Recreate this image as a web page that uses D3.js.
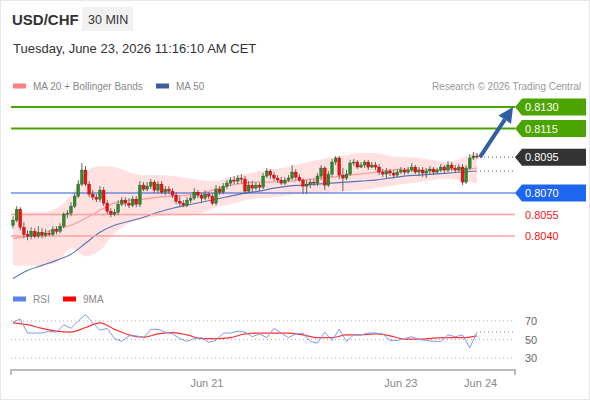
<!DOCTYPE html>
<meta charset="utf-8">
<style>
body { margin: 0; background: #fff; font-family: "Liberation Sans", Arial, sans-serif; }
text { font-family: "Liberation Sans", Arial, sans-serif; }
</style>
<body>
<script src="https://cdn.jsdelivr.net/npm/d3@7"></script>
<script>

// candles, 30 min, oldest first
var opens = [.80475,.80510,.80587,.80461,.80412,.80398,.80433,.80398,.80426,.80405,.80419,.80412,.80447,.80433,.80468,.80552,.80559,.80608,.80678,.80762,
  .80860,.80762,.80692,.80671,.80657,.80720,.80629,.80573,.80552,.80566,.80622,.80650,.80629,.80615,.80657,.80622,.80755,.80727,.80748,.80776,
  .80720,.80762,.80706,.80727,.80713,.80685,.80643,.80629,.80615,.80650,.80664,.80706,.80685,.80664,.80692,.80678,.80629,.80727,.80706,.80748,
  .80769,.80790,.80783,.80804,.80797,.80713,.80755,.80734,.80755,.80741,.80818,.80853,.80825,.80804,.80790,.80769,.80790,.80804,.80846,.80811,
  .80790,.80748,.80762,.80776,.80769,.80818,.80874,.80755,.80832,.80916,.80944,.80825,.80804,.80832,.80909,.80916,.80881,.80895,.80916,.80881,
  .80895,.80881,.80846,.80832,.80853,.80839,.80825,.80846,.80860,.80846,.80860,.80881,.80846,.80860,.80839,.80853,.80867,.80846,.80860,.80881,
  .80860,.80895,.80874,.80860,.80881,.80776,.80874,.80944,.80958];
var highs = [.80538,.80608,.80601,.80496,.80440,.80461,.80454,.80468,.80454,.80447,.80440,.80468,.80468,.80489,.80566,.80580,.80636,.80699,.80790,.80909,
  .80888,.80783,.80720,.80692,.80748,.80741,.80650,.80594,.80587,.80650,.80671,.80671,.80664,.80678,.80678,.80783,.80776,.80776,.80797,.80790,
  .80783,.80783,.80748,.80748,.80734,.80706,.80678,.80650,.80671,.80685,.80734,.80720,.80699,.80720,.80706,.80699,.80755,.80748,.80769,.80790,
  .80811,.80818,.80825,.80832,.80818,.80783,.80783,.80776,.80769,.80839,.80874,.80867,.80846,.80825,.80811,.80811,.80825,.80895,.80867,.80832,
  .80804,.80790,.80797,.80797,.80839,.80895,.80888,.80853,.80937,.80958,.80958,.80874,.80860,.80930,.80937,.80930,.80916,.80930,.80930,.80916,
  .80916,.80902,.80867,.80874,.80867,.80860,.80867,.80881,.80874,.80881,.80909,.80895,.80881,.80881,.80874,.80888,.80881,.80874,.80902,.80895,
  .80923,.80916,.80895,.80902,.80902,.80895,.80972,.80986,.80979];
var lows = [.80454,.80496,.80440,.80384,.80370,.80377,.80384,.80384,.80384,.80391,.80398,.80398,.80412,.80419,.80454,.80524,.80538,.80594,.80664,.80748,
  .80748,.80671,.80650,.80636,.80636,.80608,.80552,.80531,.80538,.80545,.80608,.80608,.80594,.80601,.80601,.80601,.80713,.80713,.80727,.80699,
  .80699,.80692,.80685,.80692,.80664,.80622,.80608,.80601,.80601,.80629,.80650,.80664,.80629,.80650,.80657,.80615,.80615,.80685,.80692,.80727,
  .80748,.80762,.80762,.80769,.80692,.80699,.80706,.80720,.80713,.80727,.80804,.80797,.80783,.80769,.80755,.80755,.80776,.80790,.80790,.80776,
  .80692,.80692,.80734,.80748,.80748,.80790,.80720,.80741,.80811,.80895,.80797,.80713,.80790,.80818,.80888,.80867,.80874,.80874,.80860,.80874,
  .80860,.80825,.80811,.80804,.80818,.80804,.80811,.80832,.80825,.80832,.80846,.80832,.80818,.80811,.80804,.80832,.80825,.80832,.80846,.80839,
  .80846,.80853,.80839,.80846,.80755,.80762,.80860,.80930,.80937];
var closes = [.80510,.80587,.80461,.80412,.80398,.80433,.80398,.80426,.80405,.80419,.80412,.80447,.80433,.80468,.80552,.80559,.80608,.80678,.80762,.80860,
  .80762,.80692,.80671,.80657,.80720,.80629,.80573,.80552,.80566,.80622,.80650,.80629,.80615,.80657,.80622,.80755,.80727,.80748,.80776,.80720,
  .80762,.80706,.80727,.80713,.80685,.80643,.80629,.80615,.80650,.80664,.80706,.80685,.80664,.80692,.80678,.80629,.80727,.80706,.80748,.80769,
  .80790,.80783,.80804,.80797,.80713,.80755,.80734,.80755,.80741,.80818,.80853,.80825,.80804,.80790,.80769,.80790,.80804,.80846,.80811,.80790,
  .80748,.80762,.80776,.80769,.80818,.80874,.80755,.80832,.80916,.80944,.80825,.80804,.80832,.80909,.80916,.80881,.80895,.80916,.80881,.80895,
  .80881,.80846,.80832,.80853,.80839,.80825,.80846,.80860,.80846,.80860,.80881,.80846,.80860,.80839,.80853,.80867,.80846,.80860,.80881,.80860,
  .80895,.80874,.80860,.80881,.80776,.80874,.80944,.80958,.80951];

// indicator readings, one every 4 candles (index 0, 4, 8 ... 128)
var ma20  = [.80384,.80398,.80419,.80447,.80475,.80524,.80580,.80629,.80650,.80657,.80671,.80678,.80685,.80699,.80727,.80755,.80769,
  .80776,.80776,.80783,.80790,.80804,.80811,.80825,.80832,.80846,.80860,.80867,.80860,.80860,.80867,.80867,.80874];
var bbUp  = [.80566,.80566,.80566,.80594,.80685,.80846,.80888,.80881,.80846,.80825,.80825,.80818,.80804,.80790,.80783,.80811,.80832,
  .80853,.80867,.80881,.80909,.80930,.80951,.80965,.80979,.80979,.80958,.80951,.80944,.80930,.80916,.80944,.80986];
var bbLow = [.80195,.80195,.80195,.80216,.80314,.80258,.80300,.80419,.80489,.80517,.80538,.80545,.80545,.80559,.80601,.80622,.80650,
  .80664,.80671,.80685,.80699,.80699,.80706,.80713,.80720,.80734,.80748,.80762,.80776,.80790,.80797,.80783,.80769];
var ma50  = [.80104,.80160,.80195,.80230,.80272,.80349,.80426,.80475,.80503,.80531,.80566,.80594,.80615,.80636,.80657,.80678,.80699,
  .80713,.80734,.80748,.80755,.80762,.80769,.80776,.80783,.80790,.80804,.80818,.80825,.80832,.80839,.80846,.80853];
var rsiMa = [68,66,62,59,58,63,68,61,55,52.5,56,57.5,55,51,51,52,56,57,57,57,55,52,52,55,55,56,54,50.5,50.5,51.5,52,52,54];

// RSI, one every 2 candles
var rsi = [69,72,57,57,57,59,58,66,62,70,77,68,60,62,51,48,54,54,52,61,61,58,56,51,48,51,52,47,49,57,57,59,58,
  53,56,52,62,57,52,56,57,48,46,58,49,61,48,55,55,57,57,56,49,49,51,53,50,49,48,48,55,53,55,41,58];

// key levels
var resistLevels = [0.8130, 0.8115];
var pivotLevel = 0.8070;
var supportLevels = [0.8055, 0.8040];
var lastPrice = 0.8095;
var rsiTicks = [70, 50, 30];
var dayTickIdx = [53.5, 107, 129];
var dayTickLabels = ["Jun 21", "Jun 23", "Jun 24"];

var W = 590, H = 400;
var svg = d3.select("body").append("svg").attr("width", W).attr("height", H);

svg.append("rect").attr("x", 0.5).attr("y", 0.5).attr("width", W - 1).attr("height", H - 1)
  .attr("fill", "#fff").attr("stroke", "#e4e7eb");

var x = d3.scaleLinear().domain([0, 128]).range([13, 477]);
var y = d3.scaleLinear().domain([0.8040, 0.8130]).range([236, 107]);
var yr = d3.scaleLinear().domain([30, 70]).range([358, 321]);
var xL = 11, xR = 515;

// header
svg.append("text").attr("x", 12).attr("y", 25).attr("font-size", 15).attr("font-weight", "bold")
  .attr("fill", "#333").text("USD/CHF");
svg.append("rect").attr("x", 82).attr("y", 7).attr("width", 51).attr("height", 24).attr("fill", "#f1f1f1");
svg.append("text").attr("x", 88).attr("y", 24).attr("font-size", 12.5).attr("fill", "#333").text("30 MIN");
svg.append("text").attr("x", 13).attr("y", 53).attr("font-size", 13).attr("fill", "#333")
  .text("Tuesday, June 23, 2026 11:16:10 AM CET");

// legends
function legend(g, lx, ly, color, label) {
  g.append("rect").attr("x", lx).attr("y", ly - 2.5).attr("width", 13).attr("height", 5).attr("fill", color);
  g.append("text").attr("x", lx + 20).attr("y", ly + 4).attr("font-size", 10).attr("fill", "#888").text(label);
}
legend(svg, 13, 86, "#ff8080", "MA 20 + Bollinger Bands");
legend(svg, 156, 86, "#3a5fa0", "MA 50");
svg.append("text").attr("x", 581).attr("y", 90).attr("font-size", 10).attr("fill", "#999")
  .attr("text-anchor", "end").text("Research \u00a9 2026 Trading Central");
legend(svg, 13, 299, "#5b82e8", "RSI");
legend(svg, 63, 299, "#f00", "9MA");

// bollinger band + moving averages
var idx4 = function(d, i) { return x(i * 4); };
svg.append("path").datum(bbUp.map(function(v, i) { return [v, bbLow[i]]; }))
  .attr("fill", "#ffdcdc").attr("opacity", 0.85)
  .attr("d", d3.area().x(idx4).y0(function(d) { return y(d[0]); }).y1(function(d) { return y(d[1]); })
    .curve(d3.curveMonotoneX));

var line4 = d3.line().x(idx4).y(function(d) { return y(d); }).curve(d3.curveMonotoneX);
svg.append("path").datum(ma20).attr("fill", "none").attr("stroke", "#ff9a9a").attr("stroke-width", 1.2).attr("d", line4);
svg.append("path").datum(ma50).attr("fill", "none").attr("stroke", "#5777b8").attr("stroke-width", 1.1).attr("d", line4);

// level lines
resistLevels.forEach(function(v) {
  svg.append("line").attr("x1", xL).attr("x2", xR).attr("y1", y(v)).attr("y2", y(v))
    .attr("stroke", "#4ca400").attr("stroke-width", 2);
});
svg.append("line").attr("x1", xL).attr("x2", xR).attr("y1", y(pivotLevel)).attr("y2", y(pivotLevel))
  .attr("stroke", "#2a5bd6").attr("stroke-width", 1.2);
supportLevels.forEach(function(v) {
  svg.append("line").attr("x1", xL).attr("x2", xR).attr("y1", y(v)).attr("y2", y(v))
    .attr("stroke", "#ffa0a0").attr("stroke-width", 1.5);
});

// candles
var candles = closes.map(function(c, i) { return {o: opens[i], h: highs[i], l: lows[i], c: c, i: i}; });
var cg = svg.append("g").selectAll("g").data(candles).enter().append("g");
cg.append("line")
  .attr("x1", function(d) { return x(d.i); }).attr("x2", function(d) { return x(d.i); })
  .attr("y1", function(d) { return y(d.h); }).attr("y2", function(d) { return y(d.l); })
  .attr("stroke", "#666").attr("stroke-width", 1);
cg.append("rect")
  .attr("x", function(d) { return x(d.i) - 1.4; }).attr("width", 2.8)
  .attr("y", function(d) { return y(Math.max(d.o, d.c)); })
  .attr("height", function(d) { return Math.max(1, Math.abs(y(d.o) - y(d.c))); })
  .attr("fill", function(d) { return d.c >= d.o ? "#2b8a2b" : "#ee1111"; })
  .attr("stroke", function(d) { return d.c >= d.o ? "#1d5f1d" : "#b00"; }).attr("stroke-width", 0.4);

// dotted extensions from last candle
var xEnd = x(128) + 3;
svg.append("line").attr("x1", xEnd).attr("x2", xR).attr("y1", y(lastPrice)).attr("y2", y(lastPrice))
  .attr("stroke", "#555").attr("stroke-dasharray", "1,3");
svg.append("line").attr("x1", xEnd).attr("x2", xR).attr("y1", y(ma50[ma50.length - 1])).attr("y2", y(ma50[ma50.length - 1]))
  .attr("stroke", "#3a62b8").attr("stroke-dasharray", "1,3");

// target arrow
var ax0 = xEnd, ay0 = y(lastPrice), ax1 = 513, ay1 = y(resistLevels[0]);
var ang = Math.atan2(ay1 - ay0, ax1 - ax0);
var hl = 15, hw = 7.5;
var bx = ax1 - hl * Math.cos(ang), by = ay1 - hl * Math.sin(ang);
svg.append("line").attr("x1", ax0).attr("y1", ay0).attr("x2", bx).attr("y2", by)
  .attr("stroke", "#2f5ea6").attr("stroke-width", 4);
svg.append("path").attr("fill", "#2f5ea6")
  .attr("d", "M" + ax1 + "," + ay1 +
    "L" + (bx + hw * Math.sin(ang)) + "," + (by - hw * Math.cos(ang)) +
    "L" + (bx - hw * Math.sin(ang)) + "," + (by + hw * Math.cos(ang)) + "Z");

// right labels
function tag(v, fill) {
  var yy = y(v);
  svg.append("path").attr("fill", fill)
    .attr("d", "M515," + yy + "L522," + (yy - 8.5) + "L586," + (yy - 8.5) + "L586," + (yy + 8.5) + "L522," + (yy + 8.5) + "Z");
  svg.append("text").attr("x", 525).attr("y", yy + 4).attr("font-size", 11).attr("fill", "#fff").text(v.toFixed(4));
}
resistLevels.forEach(function(v) { tag(v, "#4ca400"); });
tag(lastPrice, "#333");
tag(pivotLevel, "#1e66f0");
supportLevels.forEach(function(v) {
  svg.append("text").attr("x", 525).attr("y", y(v) + 4).attr("font-size", 11).attr("fill", "#f01818").text(v.toFixed(4));
});

// RSI panel
rsiTicks.forEach(function(t) {
  svg.append("line").attr("x1", xL).attr("x2", xR).attr("y1", yr(t)).attr("y2", yr(t))
    .attr("stroke", "#aaa").attr("stroke-dasharray", "1,3");
  svg.append("text").attr("x", 525).attr("y", yr(t) + 4).attr("font-size", 11).attr("fill", "#666").text(t);
});
svg.append("path").datum(rsiMa).attr("fill", "none").attr("stroke", "#ff3030").attr("stroke-width", 1.2)
  .attr("d", d3.line().x(idx4).y(function(d) { return yr(d); }).curve(d3.curveMonotoneX));
svg.append("path").datum(rsi).attr("fill", "none").attr("stroke", "#7d9af0").attr("stroke-width", 1)
  .attr("d", d3.line().x(function(d, i) { return x(i * 2); }).y(function(d) { return yr(d); }));
svg.append("line").attr("x1", xEnd).attr("x2", xR).attr("y1", yr(rsi[rsi.length - 1])).attr("y2", yr(rsi[rsi.length - 1]))
  .attr("stroke", "#5b82e8").attr("stroke-dasharray", "1,3");

// time axis
svg.append("path").attr("fill", "none").attr("stroke", "#bbb").attr("stroke-width", 2)
  .attr("d", "M" + xL + ",375V370H" + xR + "V375");
dayTickIdx.forEach(function(t, k) {
  svg.append("text").attr("x", x(t)).attr("y", 387).attr("font-size", 11).attr("fill", "#888")
    .attr("text-anchor", "middle").text(dayTickLabels[k]);
});

</script>
</body>
